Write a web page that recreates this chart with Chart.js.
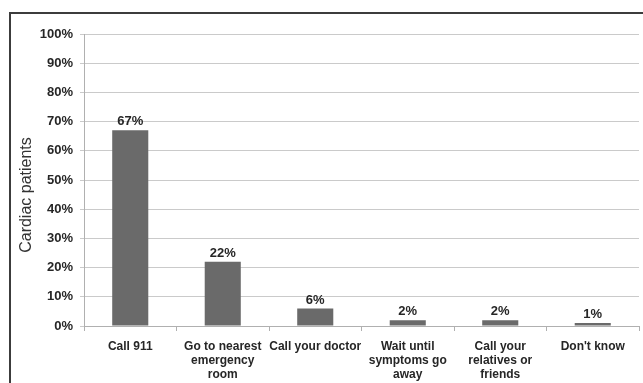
<!DOCTYPE html>
<html>
<head>
<meta charset="utf-8">
<script src="https://cdn.jsdelivr.net/npm/chart.js@4/dist/chart.umd.min.js"></script>
<style>
  html, body { margin: 0; padding: 0; background: #fff; }
  #wrap { position: relative; width: 643px; height: 383px; overflow: hidden; }
  #frame { position: absolute; left: 9px; top: 12px; width: 700px; height: 420px; border: 2px solid #3c3c3c; box-sizing: border-box; pointer-events: none; }
  canvas { position: absolute; left: 0; top: 0; }
</style>
</head>
<body>
<div id="wrap">
  <canvas id="chart" width="643" height="383"></canvas>
  <div id="frame"></div>
</div>
<script>
(function(){
  const categories = [
    'Call 911',
    ['Go to nearest', 'emergency', 'room'],
    'Call your doctor',
    ['Wait until', 'symptoms go', 'away'],
    ['Call your', 'relatives or', 'friends'],
    "Don't know"
  ];
  const patients = [67, 22, 6, 2, 2, 1];
  const yTicks = [0, 10, 20, 30, 40, 50, 60, 70, 80, 90, 100];

  const FONT = '"Liberation Sans", Arial, sans-serif';
  const TEXT = '#262626';

  // percentage labels above each bar
  const barLabels = {
    id: 'barLabels',
    afterDatasetsDraw(chart){
      const ctx = chart.ctx;
      const meta = chart.getDatasetMeta(0);
      ctx.save();
      ctx.font = 'bold 13px ' + FONT;
      ctx.fillStyle = TEXT;
      ctx.textAlign = 'center';
      ctx.textBaseline = 'bottom';
      meta.data.forEach((bar, i) => {
        ctx.fillText(patients[i] + '%', bar.x, bar.y - 2);
      });
      ctx.restore();
    }
  };

  // vertical axis title
  const yTitle = {
    id: 'yTitle',
    afterDraw(chart){
      const ctx = chart.ctx;
      ctx.save();
      ctx.translate(27, 195);
      ctx.rotate(-Math.PI / 2);
      ctx.font = '16px ' + FONT;
      ctx.fillStyle = '#333';
      ctx.textAlign = 'center';
      ctx.textBaseline = 'middle';
      ctx.fillText('Cardiac patients', 0, 0);
      ctx.restore();
    }
  };

  new Chart(document.getElementById('chart').getContext('2d'), {
    type: 'bar',
    data: {
      labels: categories,
      datasets: [{
        data: patients,
        backgroundColor: '#6a6a6a',
        borderWidth: 0,
        categoryPercentage: 1,
        barPercentage: 0.39
      }]
    },
    options: {
      responsive: false,
      animation: false,
      layout: { padding: { left: 0, top: 34, right: 4, bottom: 0 } },
      plugins: { legend: { display: false }, tooltip: { enabled: false } },
      scales: {
        x: {
          afterFit: s => { s.height = 57; },
          grid: { offset: true, drawOnChartArea: false, color: '#b0b0b0', tickLength: 5 },
          border: { color: '#b0b0b0' },
          ticks: {
            autoSkip: false, maxRotation: 0, padding: 9,
            color: TEXT, font: { family: FONT, size: 12, weight: 'bold', lineHeight: 1.17 }
          }
        },
        y: {
          min: 0, max: 100,
          afterFit: s => { s.width = 84; },
          afterBuildTicks: s => { s.ticks = yTicks.map(v => ({ value: v })); },
          grid: { color: '#cacaca', tickLength: 4 },
          border: { color: '#b0b0b0' },
          ticks: {
            padding: 7,
            color: TEXT, font: { family: FONT, size: 13, weight: 'bold' },
            callback: v => v + '%'
          }
        }
      }
    },
    plugins: [barLabels, yTitle]
  });
})();
</script>
</body>
</html>
